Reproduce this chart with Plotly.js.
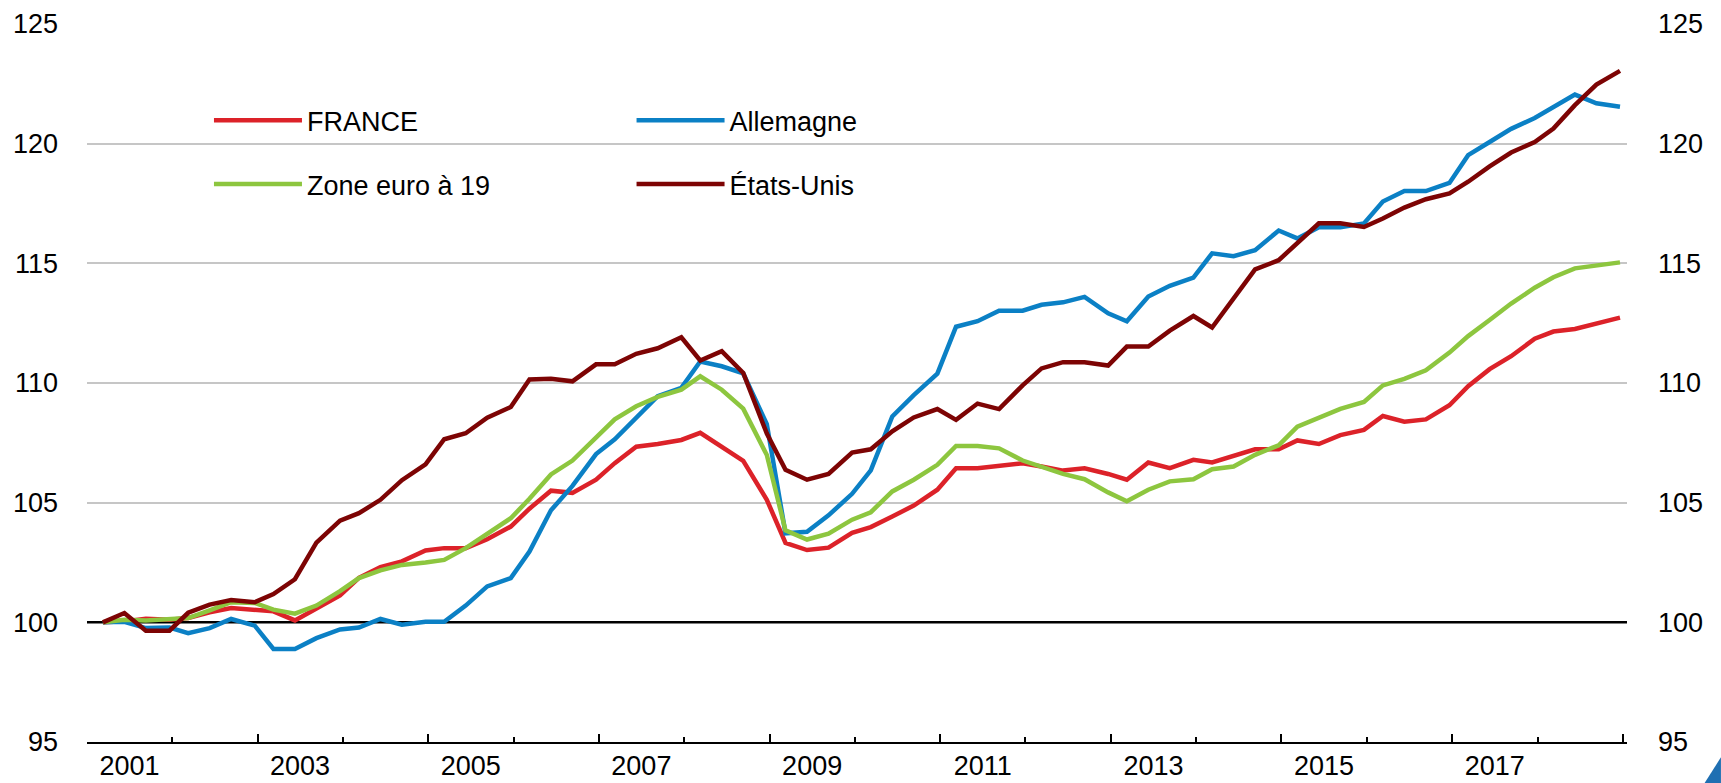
<!DOCTYPE html>
<html>
<head>
<meta charset="utf-8">
<script src="https://cdn.plot.ly/plotly-3.0.1.min.js"></script>
<style>
html, body { margin: 0; padding: 0; background: #ffffff; }
#chart { width: 1721px; height: 783px; }
</style>
</head>
<body>
<div id="chart"></div>
<script>
// ---- Data (base 100 = 2001 T1), quarterly 2001 T1 - 2018 T4 ----
const seriesNames = ['FRANCE', 'Allemagne', 'Zone euro à 19', 'États-Unis'];

const france = [
  100.0, 100.04, 100.15, 100.11, 100.18, 100.42, 100.6, 100.53,
  100.46, 100.08, 100.6, 101.12, 101.86, 102.31, 102.55, 103.0,
  103.1, 103.1, 103.47, 104.0, 104.75, 105.5, 105.41, 105.96,
  106.65, 107.34, 107.45, 107.62, 107.92, 107.34, 106.75, 105.12,
  103.32, 103.02, 103.12, 103.74, 103.98, 104.42, 104.88, 105.54,
  106.44, 106.44, 106.55, 106.65, 106.51, 106.34, 106.44, 106.2,
  105.96, 106.68, 106.44, 106.79, 106.68, 106.95, 107.23, 107.23,
  107.6, 107.45, 107.82, 108.04, 108.62, 108.38, 108.48, 109.07,
  109.87, 110.58, 111.12, 111.85, 112.15, 112.26, 112.48, 112.73
];

const allemagne = [
  100.0, 100.02, 99.76, 99.78, 99.55, 99.76, 100.14, 99.86,
  98.89, 98.89, 99.34, 99.7, 99.78, 100.14, 99.9, 100.02,
  100.02, 100.7, 101.5, 101.85, 102.96, 104.68, 105.7, 107.03,
  107.65, 108.55, 109.45, 109.8, 110.9, 110.7, 110.4, 108.28,
  103.72, 103.78, 104.47, 105.37, 106.35, 108.6, 109.49, 110.39,
  112.35, 112.58, 113.02, 113.02, 113.27, 113.37, 113.6, 112.91,
  112.58, 113.61, 114.06, 114.4, 115.42, 115.3, 115.55, 116.37,
  116.04, 116.51, 116.51, 116.67, 117.58, 118.02, 118.02, 118.36,
  119.52, 120.07, 120.62, 121.07, 121.54, 122.05, 121.69, 121.54
];

const zoneEuro = [
  100.0, 100.11, 100.08, 100.15, 100.18, 100.5, 100.84, 100.81,
  100.53, 100.36, 100.7, 101.3, 101.85, 102.17, 102.4, 102.5,
  102.61, 103.1, 103.69, 104.35, 105.16, 106.18, 106.76, 107.75,
  108.48, 109.03, 109.42, 109.72, 110.28, 109.72, 108.93, 106.99,
  103.84, 103.46, 103.7, 104.29, 104.6, 105.47, 105.96, 106.58,
  107.37, 107.37, 107.27, 106.76, 106.51, 106.2, 105.98, 105.43,
  105.06, 105.54, 105.89, 105.98, 106.4, 106.51, 107.0, 107.4,
  108.18, 108.55, 108.92, 109.21, 109.9, 110.17, 110.53, 111.27,
  111.96, 112.63, 113.32, 113.98, 114.42, 114.79, 114.91, 115.04
];

const etatsUnis = [
  100.0, 100.39, 99.65, 99.65, 100.4, 100.74, 100.93, 100.84,
  101.18, 101.8, 103.33, 104.25, 104.56, 105.12, 105.94, 106.6,
  107.65, 107.9, 108.55, 109.0, 110.15, 110.18, 110.07, 110.78,
  110.78, 111.22, 111.45, 111.91, 110.94, 111.33, 110.42, 107.89,
  106.37, 105.96, 106.2, 107.09, 107.23, 107.98, 108.56, 108.91,
  108.46, 109.14, 108.91, 109.9, 110.61, 110.87, 110.87, 110.73,
  111.52, 111.52, 112.19, 112.8, 112.32, 113.57, 114.75, 115.13,
  115.82, 116.67, 116.67, 116.52, 116.87, 117.33, 117.68, 117.92,
  118.41, 119.05, 119.63, 120.07, 120.63, 121.61, 122.47, 123.04
];

const seriesColors = ['#DC2229', '#0B80C5', '#8DC63F', '#7D0404'];

const firstYear = 2001;
const lastYear = 2018;
const quarterMonths = ['03', '06', '09', '12'];
const yearLabels = ['2001', '2003', '2005', '2007', '2009', '2011', '2013', '2015', '2017'];
const yTickValues = [95, 100, 105, 110, 115, 120, 125];
const baseValue = 100;

// quarter dates (one point per quarter)
const dates = [];
for (let y = firstYear; y <= lastYear; y++) {
  for (const m of quarterMonths) dates.push(y + '-' + m + '-' + (m === '12' ? '20' : '10'));
}
const majorTicks = [];
const minorTicks = [];
for (let y = firstYear; y <= lastYear + 1; y++) {
  if ((y - firstYear) % 2 === 0) majorTicks.push(y + '-01-01');
  else minorTicks.push(y + '-01-01');
}
const labelPositions = yearLabels.map(l => l + '-07-02');
const gridValues = yTickValues.filter(v => v !== baseValue);

const xRange = ['2001-01-01', '2019-01-19'];
const yRange = [95, 125];
const FONT = 'Liberation Sans, Arial, Helvetica, sans-serif';
const FS = 27;

const values = [france, allemagne, zoneEuro, etatsUnis];
const legendIds = ['legend', 'legend2', 'legend3', 'legend4'];

const traces = values.map((v, i) => ({
  type: 'scatter',
  mode: 'lines',
  x: dates,
  y: v,
  name: seriesNames[i],
  line: { color: seriesColors[i], width: 4.5 },
  legend: legendIds[i],
  xaxis: i === 3 ? 'x2' : 'x',
  yaxis: i === 3 ? 'y2' : 'y',
  hoverinfo: 'x+y+name'
}));

function legendAt(x, y) {
  return {
    x: x, y: y, xanchor: 'left', yanchor: 'middle',
    orientation: 'v',
    bgcolor: 'rgba(0,0,0,0)',
    borderwidth: 0,
    itemwidth: 88,
    font: { family: FONT, size: FS, color: '#000000' }
  };
}

const layout = {
  width: 1721,
  height: 783,
  margin: { l: 87, r: 94, t: 24, b: 41, pad: 0 },
  paper_bgcolor: '#ffffff',
  plot_bgcolor: '#ffffff',
  font: { family: FONT, size: FS, color: '#000000' },
  showlegend: true,
  legend: legendAt(0.0792, 0.8652),
  legend2: legendAt(0.3536, 0.8652),
  legend3: legendAt(0.0792, 0.7765),
  legend4: legendAt(0.3536, 0.7765),
  xaxis: {
    type: 'date',
    range: xRange,
    showgrid: false,
    zeroline: false,
    showline: true,
    linecolor: '#000000',
    linewidth: 2,
    tickmode: 'array',
    tickvals: majorTicks,
    ticks: 'inside',
    ticklen: 8,
    tickwidth: 2,
    tickcolor: '#000000',
    showticklabels: false,
    minor: {
      tickmode: 'array',
      tickvals: minorTicks,
      ticks: 'inside',
      ticklen: 5,
      tickwidth: 2,
      tickcolor: '#000000',
      showgrid: false
    },
    fixedrange: true
  },
  xaxis2: {
    type: 'date',
    range: xRange,
    overlaying: 'x',
    anchor: 'y2',
    side: 'bottom',
    showgrid: false,
    zeroline: false,
    showline: false,
    tickmode: 'array',
    tickvals: labelPositions,
    ticktext: yearLabels,
    ticks: '',
    ticklabelstandoff: 5,
    tickfont: { family: FONT, size: FS, color: '#000000' },
    fixedrange: true
  },
  yaxis: {
    range: yRange,
    tickmode: 'array',
    tickvals: yTickValues,
    showgrid: false,
    zeroline: false,
    showline: false,
    ticks: '',
    ticklabelstandoff: 28,
    tickfont: { family: FONT, size: FS, color: '#000000' },
    minor: {
      tickmode: 'array',
      tickvals: gridValues,
      ticks: '',
      showgrid: true,
      gridcolor: '#C6C6C6',
      gridwidth: 2
    },
    fixedrange: true
  },
  yaxis2: {
    range: yRange,
    overlaying: 'y',
    anchor: 'x2',
    side: 'right',
    tickmode: 'array',
    tickvals: yTickValues,
    showgrid: false,
    zeroline: false,
    showline: false,
    ticks: '',
    ticklabelstandoff: 30,
    tickfont: { family: FONT, size: FS, color: '#000000' },
    fixedrange: true
  },
  shapes: [
    {
      type: 'line', xref: 'paper', yref: 'y',
      x0: 0, x1: 1, y0: baseValue, y1: baseValue,
      line: { color: '#000000', width: 2.5 },
      layer: 'between'
    },
    {
      // corner mark of the source document
      type: 'path', xref: 'paper', yref: 'paper',
      path: 'M 1.0504 -0.0571 L 1.061 -0.0213 L 1.061 -0.0571 Z',
      fillcolor: '#1F6FB2',
      line: { width: 0 },
      layer: 'above'
    }
  ]
};

Plotly.newPlot('chart', traces, layout, { displayModeBar: false, staticPlot: true });
</script>
</body>
</html>
